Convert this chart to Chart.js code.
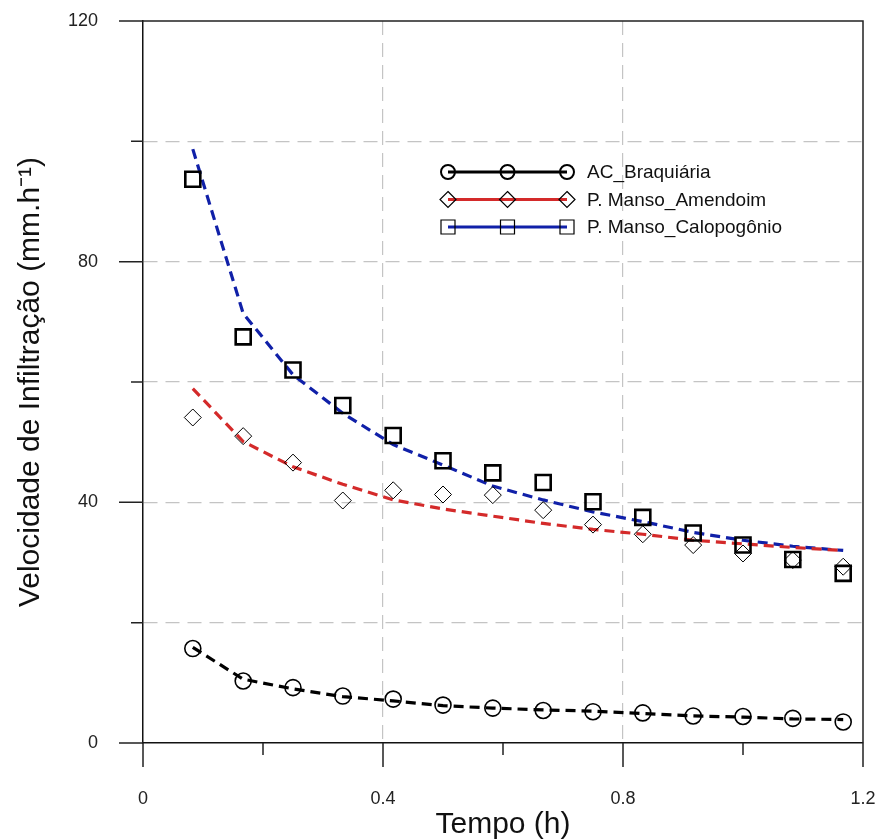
<!DOCTYPE html>
<html>
<head>
<meta charset="utf-8">
<script src="https://cdn.jsdelivr.net/npm/chart.js"></script>
<style>
  html, body { margin: 0; padding: 0; background: #fff; }
  #wrap { position: relative; width: 879px; height: 840px; }
</style>
</head>
<body>
<div id="wrap"><canvas id="infChart"></canvas></div>
<script>
/* Velocidade de infiltração — observed points + fitted curves */
const tempo = [0.083, 0.167, 0.25, 0.333, 0.417, 0.5, 0.583, 0.667, 0.75, 0.833, 0.917, 1.0, 1.083, 1.167];

const braquiaria     = [15.7, 10.3, 9.2, 7.8, 7.3, 6.3, 5.8, 5.4, 5.2, 5.0, 4.5, 4.4, 4.1, 3.5];
const braquiariaFit  = [15.9, 10.6, 9.0, 7.7, 7.0, 6.2, 5.8, 5.5, 5.3, 4.9, 4.5, 4.3, 4.0, 3.9];
const amendoim       = [54.1, 51.0, 46.6, 40.3, 42.0, 41.3, 41.2, 38.7, 36.3, 34.7, 32.9, 31.5, 30.4, 29.3];
const amendoimFit    = [58.9, 50.1, 45.9, 43.0, 40.4, 38.9, 37.7, 36.5, 35.5, 34.7, 33.7, 33.1, 32.5, 32.0];
const calopogonio    = [93.7, 67.5, 62.0, 56.1, 51.1, 46.9, 44.9, 43.3, 40.1, 37.5, 34.9, 32.9, 30.5, 28.2];
const calopogonioFit = [98.7, 71.4, 61.2, 54.8, 49.6, 46.2, 42.7, 40.4, 38.4, 36.8, 35.0, 33.7, 32.7, 32.0];

const seriesNames = ['AC_Braquiária', 'P. Manso_Amendoim', 'P. Manso_Calopogônio'];
const xLabelTicks = [0, 0.4, 0.8, 1.2];
const yLabelTicks = [0, 40, 80, 120];

const FONT = '"Liberation Sans", Arial, sans-serif';
const isIn = (list, v) => list.some(t => Math.abs(t - v) < 1e-6);
const pts  = arr => arr.map((v, i) => ({ x: tempo[i], y: v }));

const legendItems = [
  { name: seriesNames[0], color: '#000000', style: 'circle',  r: 7,   lw: 2 },
  { name: seriesNames[1], color: '#d42a2a', style: 'diamond', r: 8,   lw: 1.2 },
  { name: seriesNames[2], color: '#1020a8', style: 'rect',    r: 7,   lw: 1.2 },
];

function marker(ctx, style, x, y, r, lw) {
  ctx.beginPath();
  if (style === 'circle') ctx.arc(x, y, r, 0, Math.PI * 2);
  else if (style === 'rect') ctx.rect(x - r, y - r, 2 * r, 2 * r);
  else {
    ctx.moveTo(x, y - r); ctx.lineTo(x + r, y);
    ctx.lineTo(x, y + r); ctx.lineTo(x - r, y); ctx.closePath();
  }
  ctx.lineWidth = lw;
  ctx.strokeStyle = '#000';
  ctx.stroke();
}

// frame, tick marks (long majors / short minors) and the legend box
const decor = {
  id: 'decor',
  afterDraw(chart) {
    const { ctx, chartArea: a, scales: { x, y } } = chart;
    ctx.save();
    ctx.strokeStyle = '#222';
    ctx.lineWidth = 1.5;
    ctx.beginPath();
    ctx.moveTo(a.left, a.top); ctx.lineTo(a.right, a.top); ctx.lineTo(a.right, a.bottom);
    x.ticks.forEach(t => {
      const px = x.getPixelForValue(t.value);
      ctx.moveTo(px, a.bottom); ctx.lineTo(px, a.bottom + (isIn(xLabelTicks, t.value) ? 24 : 12));
    });
    y.ticks.forEach(t => {
      const py = y.getPixelForValue(t.value);
      ctx.moveTo(a.left, py); ctx.lineTo(a.left - (isIn(yLabelTicks, t.value) ? 24 : 12), py);
    });
    ctx.stroke();

    // legend
    const lx = a.left + 305, gap = 59.5, ly = a.top + 151, rowH = 27.5;
    legendItems.forEach((it, i) => {
      const yy = ly + i * rowH;
      ctx.beginPath();
      ctx.strokeStyle = it.color;
      ctx.lineWidth = 3;
      ctx.moveTo(lx, yy); ctx.lineTo(lx + 2 * gap, yy);
      ctx.stroke();
      for (let k = 0; k < 3; k++) marker(ctx, it.style, lx + k * gap, yy, it.r, it.lw);
      ctx.fillStyle = '#111';
      ctx.font = '19px ' + FONT;
      ctx.textBaseline = 'middle';
      ctx.fillText(it.name, lx + 2 * gap + 20, yy + 1);
    });
    ctx.restore();
  }
};

const obs = (label, data, style, radius, lw) => ({
  label, data: pts(data), showLine: false, order: 1,
  pointStyle: style, pointRadius: radius, pointHoverRadius: radius,
  pointBorderColor: '#000', pointBackgroundColor: 'rgba(0,0,0,0)', pointBorderWidth: lw,
});
const fit = (label, data, color) => ({
  label, data: pts(data), showLine: true, order: 2,
  borderColor: color, borderWidth: 3.2, borderDash: [10, 6],
  pointRadius: 0, pointHoverRadius: 0, tension: 0, fill: false,
});

new Chart(document.getElementById('infChart').getContext('2d'), {
  type: 'scatter',
  data: {
    datasets: [
      fit(seriesNames[0] + ' ajuste', braquiariaFit, '#000000'),
      fit(seriesNames[1] + ' ajuste', amendoimFit, '#d42a2a'),
      fit(seriesNames[2] + ' ajuste', calopogonioFit, '#1020a8'),
      obs(seriesNames[0], braquiaria, 'circle', 8, 1.6),
      obs(seriesNames[1], amendoim, 'rectRot', 8.5, 1),
      obs(seriesNames[2], calopogonio, 'rect', 10.6, 2.6),
    ]
  },
  plugins: [decor],
  options: {
    responsive: true,
    maintainAspectRatio: false,
    animation: false,
    layout: { padding: { top: 21, right: 16, left: 0, bottom: 0 }, autoPadding: false },
    plugins: { legend: { display: false }, tooltip: { enabled: false } },
    scales: {
      x: {
        type: 'linear', min: 0, max: 1.2,
        afterFit: s => { s.height = 97; s.paddingLeft = 0; s.paddingRight = 12; },
        ticks: {
          stepSize: 0.2, autoSkip: false, maxRotation: 0, padding: 45,
          color: '#222', font: { family: FONT, size: 18 },
          callback: v => isIn(xLabelTicks, v) ? String(+v.toFixed(1)) : ''
        },
        grid: {
          drawTicks: false, lineWidth: 1.2,
          color: c => (c.tick && isIn([0.4, 0.8], c.tick.value)) ? '#c4c4c4' : 'rgba(0,0,0,0)'
        },
        border: { color: '#111', width: 1.5, dash: [14, 8] },
        title: {
          display: true, text: 'Tempo (h)', color: '#111',
          font: { family: FONT, size: 30, lineHeight: 1 }, padding: { top: 0, bottom: 0 }
        }
      },
      y: {
        type: 'linear', min: 0, max: 120,
        afterFit: s => { s.width = 143; s.paddingTop = 10; s.paddingBottom = 0; },
        ticks: {
          stepSize: 20, autoSkip: false, padding: 45,
          color: '#222', font: { family: FONT, size: 18 },
          callback: v => isIn(yLabelTicks, v) ? String(v) : ''
        },
        grid: {
          drawTicks: false, lineWidth: 1.2,
          color: c => (c.tick && c.tick.value > 0 && c.tick.value < 120) ? '#c4c4c4' : 'rgba(0,0,0,0)'
        },
        border: { color: '#111', width: 1.5, dash: [14, 8] },
        title: {
          display: true, text: 'Velocidade de Infiltração (mm.h⁻¹)', color: '#111',
          font: { family: FONT, size: 30, lineHeight: 1 }, padding: { top: 16, bottom: 0 }
        }
      }
    }
  }
});
</script>
</body>
</html>
